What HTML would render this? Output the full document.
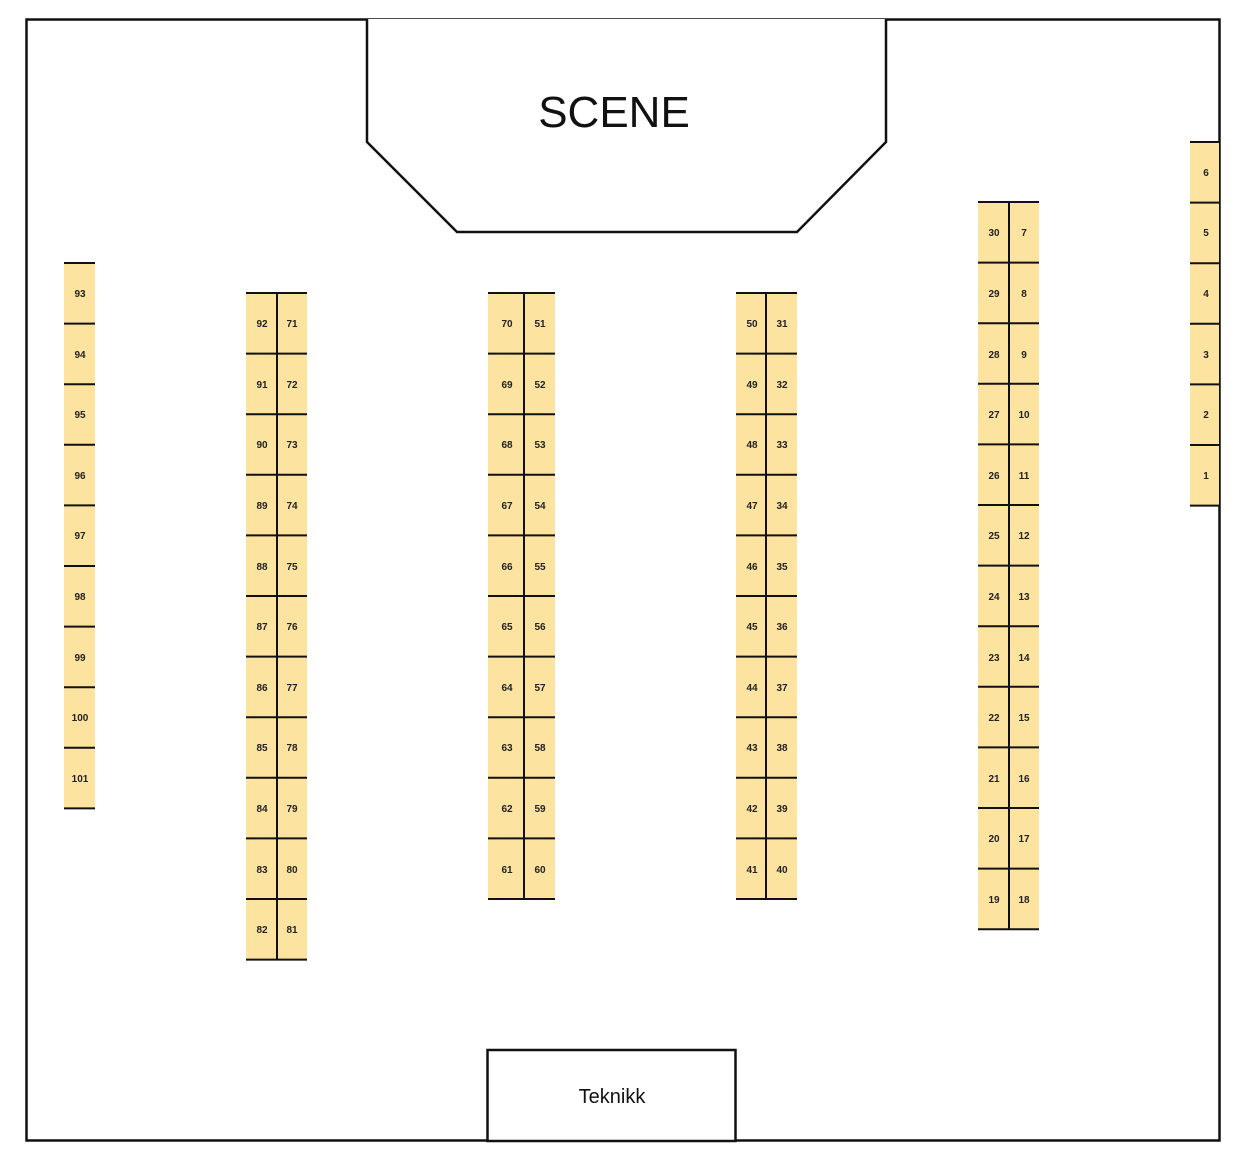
<!DOCTYPE html>
<html><head><meta charset="utf-8"><style>
html,body{margin:0;padding:0;background:#fff;}
svg text{font-family:"Liberation Sans",sans-serif;}
.n{font-size:10px;font-weight:bold;text-anchor:middle;fill:#222;}
</style></head><body>
<svg width="1240" height="1163" viewBox="0 0 1240 1163" xmlns="http://www.w3.org/2000/svg">
<rect x="26.5" y="19.5" width="1193" height="1121" fill="#fff" stroke="#111" stroke-width="2.5"/>
<polyline points="367,19 367,142 457,232 797,232 886,142 886,19" fill="#fff" stroke="#111" stroke-width="2.5"/>
<text x="614" y="127" font-size="44" text-anchor="middle" fill="#111">SCENE</text>
<rect x="487.5" y="1050" width="248" height="91" fill="#fff" stroke="#111" stroke-width="2.5"/>
<text x="612" y="1103" font-size="20" text-anchor="middle" fill="#111">Teknikk</text>
<g id="seats" stroke="#111" stroke-width="2">
<!-- Col A -->
<rect x="64" y="263" width="31" height="545.4" fill="#FCE3A0" stroke="none"/>
<path d="M64 263H95M64 323.6H95M64 384.2H95M64 444.8H95M64 505.4H95M64 566H95M64 626.6H95M64 687.2H95M64 747.8H95M64 808.4H95"/>
<!-- Col B -->
<rect x="246" y="293" width="61" height="666.6" fill="#FCE3A0" stroke="none"/>
<path d="M246 293H307M246 353.6H307M246 414.2H307M246 474.8H307M246 535.4H307M246 596H307M246 656.6H307M246 717.2H307M246 777.8H307M246 838.4H307M246 899H307M246 959.6H307M277 293V959.6"/>
<!-- Col C -->
<rect x="488" y="293" width="67" height="606" fill="#FCE3A0" stroke="none"/>
<path d="M488 293H555M488 353.6H555M488 414.2H555M488 474.8H555M488 535.4H555M488 596H555M488 656.6H555M488 717.2H555M488 777.8H555M488 838.4H555M488 899H555M524 293V899"/>
<!-- Col D -->
<rect x="736" y="293" width="61" height="606" fill="#FCE3A0" stroke="none"/>
<path d="M736 293H797M736 353.6H797M736 414.2H797M736 474.8H797M736 535.4H797M736 596H797M736 656.6H797M736 717.2H797M736 777.8H797M736 838.4H797M736 899H797M766 293V899"/>
<!-- Col E -->
<rect x="978" y="202" width="61" height="727.2" fill="#FCE3A0" stroke="none"/>
<path d="M978 202H1039M978 262.6H1039M978 323.2H1039M978 383.8H1039M978 444.4H1039M978 505H1039M978 565.6H1039M978 626.2H1039M978 686.8H1039M978 747.4H1039M978 808H1039M978 868.6H1039M978 929.2H1039M1009 202V929.2"/>
<!-- Col F -->
<rect x="1190" y="142" width="29" height="363.6" fill="#FCE3A0" stroke="none"/>
<path d="M1190 142H1219M1190 202.6H1219M1190 263.2H1219M1190 323.8H1219M1190 384.4H1219M1190 445H1219M1190 505.6H1219"/>
</g>
<g class="n">
<text x="80" y="297" class="n">93</text><text x="80" y="358" class="n">94</text><text x="80" y="418" class="n">95</text><text x="80" y="479" class="n">96</text><text x="80" y="539" class="n">97</text><text x="80" y="600" class="n">98</text><text x="80" y="661" class="n">99</text><text x="80" y="721" class="n">100</text><text x="80" y="782" class="n">101</text>

<text x="262" y="327" class="n">92</text><text x="262" y="388" class="n">91</text><text x="262" y="448" class="n">90</text><text x="262" y="509" class="n">89</text><text x="262" y="570" class="n">88</text><text x="262" y="630" class="n">87</text><text x="262" y="691" class="n">86</text><text x="262" y="751" class="n">85</text><text x="262" y="812" class="n">84</text><text x="262" y="873" class="n">83</text><text x="262" y="933" class="n">82</text>
<text x="292" y="327" class="n">71</text><text x="292" y="388" class="n">72</text><text x="292" y="448" class="n">73</text><text x="292" y="509" class="n">74</text><text x="292" y="570" class="n">75</text><text x="292" y="630" class="n">76</text><text x="292" y="691" class="n">77</text><text x="292" y="751" class="n">78</text><text x="292" y="812" class="n">79</text><text x="292" y="873" class="n">80</text><text x="292" y="933" class="n">81</text>

<text x="507" y="327" class="n">70</text><text x="507" y="388" class="n">69</text><text x="507" y="448" class="n">68</text><text x="507" y="509" class="n">67</text><text x="507" y="570" class="n">66</text><text x="507" y="630" class="n">65</text><text x="507" y="691" class="n">64</text><text x="507" y="751" class="n">63</text><text x="507" y="812" class="n">62</text><text x="507" y="873" class="n">61</text>
<text x="540" y="327" class="n">51</text><text x="540" y="388" class="n">52</text><text x="540" y="448" class="n">53</text><text x="540" y="509" class="n">54</text><text x="540" y="570" class="n">55</text><text x="540" y="630" class="n">56</text><text x="540" y="691" class="n">57</text><text x="540" y="751" class="n">58</text><text x="540" y="812" class="n">59</text><text x="540" y="873" class="n">60</text>

<text x="752" y="327" class="n">50</text><text x="752" y="388" class="n">49</text><text x="752" y="448" class="n">48</text><text x="752" y="509" class="n">47</text><text x="752" y="570" class="n">46</text><text x="752" y="630" class="n">45</text><text x="752" y="691" class="n">44</text><text x="752" y="751" class="n">43</text><text x="752" y="812" class="n">42</text><text x="752" y="873" class="n">41</text>
<text x="782" y="327" class="n">31</text><text x="782" y="388" class="n">32</text><text x="782" y="448" class="n">33</text><text x="782" y="509" class="n">34</text><text x="782" y="570" class="n">35</text><text x="782" y="630" class="n">36</text><text x="782" y="691" class="n">37</text><text x="782" y="751" class="n">38</text><text x="782" y="812" class="n">39</text><text x="782" y="873" class="n">40</text>

<text x="994" y="236" class="n">30</text><text x="994" y="297" class="n">29</text><text x="994" y="358" class="n">28</text><text x="994" y="418" class="n">27</text><text x="994" y="479" class="n">26</text><text x="994" y="539" class="n">25</text><text x="994" y="600" class="n">24</text><text x="994" y="661" class="n">23</text><text x="994" y="721" class="n">22</text><text x="994" y="782" class="n">21</text><text x="994" y="842" class="n">20</text><text x="994" y="903" class="n">19</text>
<text x="1024" y="236" class="n">7</text><text x="1024" y="297" class="n">8</text><text x="1024" y="358" class="n">9</text><text x="1024" y="418" class="n">10</text><text x="1024" y="479" class="n">11</text><text x="1024" y="539" class="n">12</text><text x="1024" y="600" class="n">13</text><text x="1024" y="661" class="n">14</text><text x="1024" y="721" class="n">15</text><text x="1024" y="782" class="n">16</text><text x="1024" y="842" class="n">17</text><text x="1024" y="903" class="n">18</text>

<text x="1206" y="176" class="n">6</text><text x="1206" y="236" class="n">5</text><text x="1206" y="297" class="n">4</text><text x="1206" y="358" class="n">3</text><text x="1206" y="418" class="n">2</text><text x="1206" y="479" class="n">1</text>
</g>
</svg>
</body></html>
